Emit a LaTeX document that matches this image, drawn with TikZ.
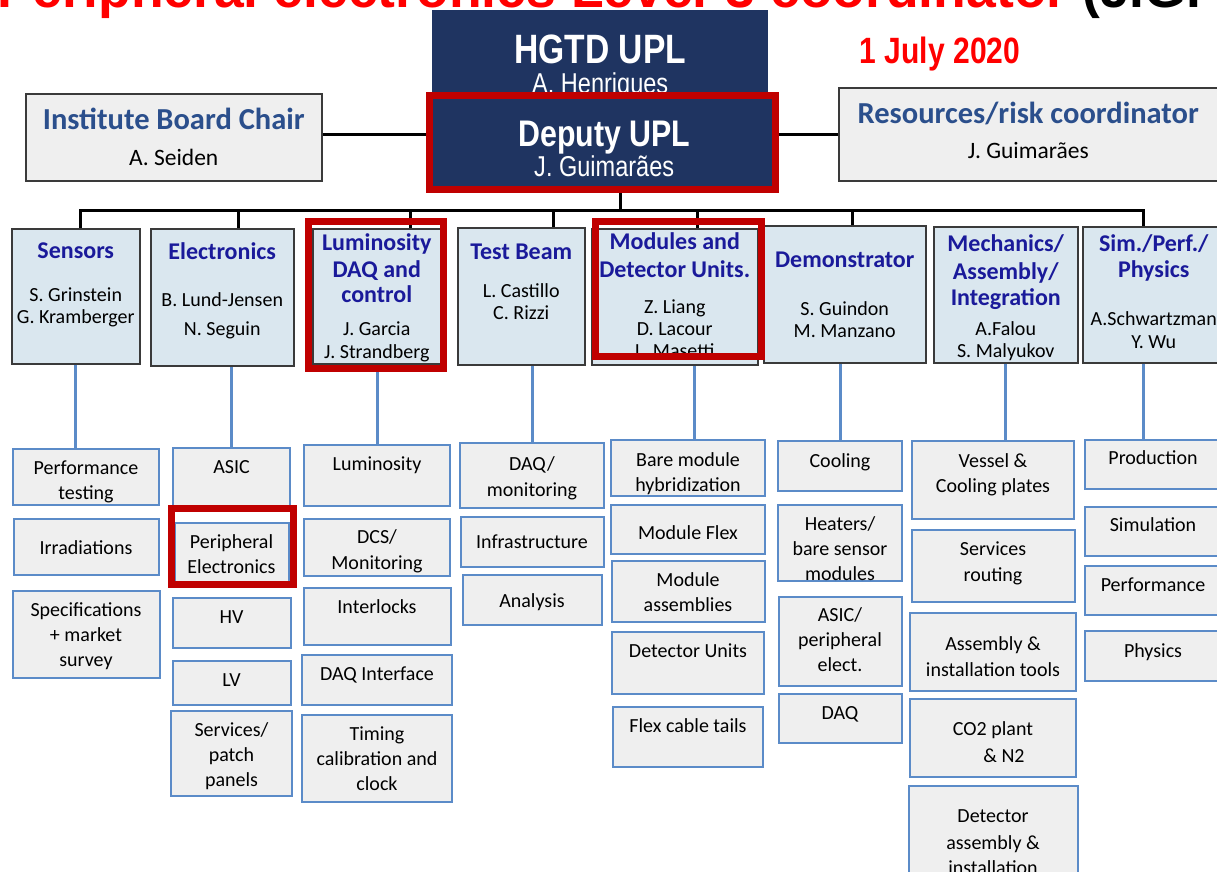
\documentclass[tikz,border=0pt]{standalone}
\usepackage{fontspec}
\setmainfont{Carlito}
\newfontfamily\arialfont{Liberation Sans}
\newfontfamily\narrowfont[FakeStretch=0.82]{Liberation Sans}
\usetikzlibrary{positioning}
\definecolor{navy}{HTML}{1F3461}
\definecolor{hlred}{HTML}{C00000}
\definecolor{alert}{HTML}{FF0000}
\definecolor{chairtxt}{HTML}{2B4F8C}
\definecolor{headtxt}{HTML}{1A1A9A}
\definecolor{headfill}{HTML}{DAE7EF}
\definecolor{boxgray}{HTML}{EFEFEF}
\definecolor{subline}{HTML}{5B8BC8}
\definecolor{edge}{HTML}{3A3A3A}
\newcommand{\ttl}{\fontsize{24}{26}\selectfont\bfseries\color{headtxt}}
\newcommand{\chairttl}{\fontsize{30.5}{34}\selectfont\bfseries\color{chairtxt}}

\begin{document}
\begin{tikzpicture}[
  x=1pt, y=-1pt,
  lead/.style={fill=navy, text=white, inner xsep=2pt, inner ysep=0pt, align=center,
               font=\narrowfont\fontsize{28.7}{30}\selectfont},
  chair/.style={draw=edge, fill=boxgray, line width=1.5pt, inner xsep=2pt, inner ysep=0pt,
                align=center, font=\fontsize{23.5}{36}\selectfont},
  head/.style={draw=edge, fill=headfill, line width=1.5pt, inner xsep=2pt, inner ysep=0pt,
               align=center, font=\fontsize{20}{22}\selectfont},
  sub/.style={draw=subline, fill=boxgray, line width=2pt, inner xsep=2pt, inner ysep=0pt,
              outer sep=0pt, align=center, font=\fontsize{20}{25}\selectfont},
  % width, baseline of the last line from the top, height
  fix/.style n args={3}{minimum width=#1pt, text height=#2pt, text depth=#3pt-#2pt},
  bus/.style={draw=black, line width=3pt},
  link/.style={draw=subline, line width=3pt},
  hl/.style={draw=hlred, line width=7pt}
]
  \useasboundingbox (0,0) rectangle (1217,871);

  % title line and date
  \node[anchor=base west, inner sep=0pt, font=\arialfont\bfseries\fontsize{53.5}{60}\selectfont] (banner) at (-3,7)
    {\textcolor{alert}{Peripheral electronics Level-3 coordinator} (J.G. E};
  \node[text=alert, font=\narrowfont\bfseries\fontsize{36.6}{40}\selectfont] (date) at (940,54) {1 July 2020};

  % top level
  \node[lead, fix={336}{83}{90}, anchor=north west] (upl) at (432,10)
    {{\bfseries\fontsize{41}{44}\selectfont HGTD UPL}\\A. Henriques};
  \node[lead, fix={344}{79}{91}, anchor=north west] (dep) at (432,97)
    {{\bfseries\fontsize{37}{40}\selectfont Deputy UPL}\\J. Guimarães};
  \node[chair, fix={296}{72}{87}, anchor=north west] (ibc) at (25,93)
    {{\chairttl Institute Board Chair}\\A. Seiden};
  \node[chair, fix={379}{71}{93}, anchor=north west] (res) at (838,87)
    {{\chairttl Resources/risk coordinator}\\[-1pt]J. Guimarães};

  % activity leaders
  \node[head, fix={128}{95}{135}, anchor=north west] (sens) at (11,228)
    {{\ttl Sensors}\\[21pt]S. Grinstein\\G. Kramberger};
  \node[head, fix={143}{107}{137}, anchor=north west] (elec) at (150,228)
    {{\ttl Electronics}\\[25pt]B. Lund-Jensen\\[7pt]N. Seguin};
  \node[head, fix={128}{130}{135}, anchor=north west] (lum) at (312,228)
    {{\ttl Luminosity}\\[5pt]{\ttl DAQ and}\\[3pt]{\ttl control}\\[11pt]J. Garcia\\[1pt]J. Strandberg};
  \node[head, fix={127}{92}{137}, anchor=north west] (tb) at (457,227)
    {{\ttl Test Beam}\\[16pt]L. Castillo\\C. Rizzi};
  \node[head, fix={166}{129}{136}, anchor=north west] (mod) at (591,228)
    {{\ttl Modules and}\\[6pt]{\ttl Detector Units.}\\[14pt]Z. Liang\\D. Lacour\\L. Masetti};
  \node[head, fix={162}{112}{137}, anchor=north west] (demo) at (763,225)
    {{\ttl Demonstrator}\\[26pt]S. Guindon\\M. Manzano};
  \node[head, fix={144}{131}{136}, anchor=north west] (mech) at (933,226)
    {{\ttl Mechanics/}\\[6pt]{\ttl Assembly/}\\[4pt]{\ttl Integration}\\[8pt]A.Falou\\S. Malyukov};
  \node[head, fix={142}{122}{136}, anchor=north west] (sim) at (1082,226)
    {{\ttl Sim./Perf./}\\[4pt]{\ttl Physics}\\[26pt]A.Schwartzman\\[1pt]Y. Wu};

  % sensors
  \node[sub, fix={146}{50}{56}, anchor=north] (perf) at (86,449) {Performance\\testing};
  \node[sub, fix={145}{35}{56}, below=14pt of perf] (irr) {Irradiations};
  \node[sub, fix={147}{75}{87}, below=16pt of irr] (spec) {Specifications\\+ market\\survey};

  % electronics
  \node[sub, fix={117}{25}{60}, anchor=north] (asic) at (231.5,448) {ASIC};
  \node[sub, fix={114}{50}{59}, below=15pt of asic] (peri) {Peripheral\\Electronics};
  \node[sub, fix={118}{25}{50}, below=16pt of peri] (hv) {HV};
  \node[sub, fix={118}{25}{44}, below=13pt of hv] (lv) {LV};
  \node[sub, fix={121}{75}{85}, below=6pt of lv] (serv) {Services/\\patch\\panels};

  % luminosity
  \node[sub, fix={146}{25}{61}, anchor=north] (lumi) at (377,445) {Luminosity};
  \node[sub, fix={146}{50}{57}, below=13pt of lumi] (dcs) {DCS/\\[1pt]Monitoring};
  \node[sub, fix={147}{25}{57}, below=12pt of dcs] (intl) {Interlocks};
  \node[sub, fix={150}{25}{50}, below=10pt of intl] (daqi) {DAQ Interface};
  \node[sub, fix={150}{75}{87}, below=10pt of daqi] (timing) {Timing\\calibration and\\clock};

  % test beam
  \node[sub, fix={144}{53}{65}, anchor=north] (daqm) at (532,443) {DAQ/\\[1pt]monitoring};
  \node[sub, fix={143}{31}{50}, below=9pt of daqm] (infra) {Infrastructure};
  \node[sub, fix={139}{32}{50}, below=8pt of infra] (anal) {Analysis};

  % modules
  \node[sub, fix={154}{51}{56}, anchor=north] (bare) at (688,440) {Bare module\\hybridization};
  \node[sub, fix={154}{34}{49}, below=9pt of bare] (flex) {Module Flex};
  \node[sub, fix={153}{50}{61}, below=7pt of flex] (massy) {Module\\assemblies};
  \node[sub, fix={152}{25}{62}, below=10pt of massy] (du) {Detector Units};
  \node[sub, fix={150}{25}{60}, below=13pt of du] (fct) {Flex cable tails};

  % demonstrator
  \node[sub, fix={124}{26}{50}, anchor=north] (cool) at (840,441) {Cooling};
  \node[sub, fix={124}{75}{76}, below=14pt of cool] (heat) {Heaters/\\bare sensor\\modules};
  \node[sub, fix={123}{74}{89}, below=16pt of heat] (asicp) {ASIC/\\peripheral\\elect.};
  \node[sub, fix={123}{25}{49}, below=8pt of asicp] (daq) {DAQ};

  % mechanics
  \node[sub, fix={162}{51}{78}, anchor=north] (vessel) at (993,441) {Vessel \&\\Cooling plates};
  \node[sub, fix={163}{51}{72}, below=11pt of vessel] (srout) {Services\\[1pt]routing};
  \node[sub, fix={166}{63}{78}, below=11pt of srout] (atools) {Assembly \&\\[1pt]installation tools};
  \node[sub, fix={166}{63}{78}, below=8pt of atools] (co2) {CO2 plant\\[2pt]\hspace*{22pt}\& N2};
  \node[sub, fix={169}{88}{100}, below=9pt of co2] (dass) {Detector\\[2pt]assembly \&\\installation};

  % simulation
  \node[sub, fix={136}{24}{49}, anchor=north] (prod) at (1153,440) {Production};
  \node[sub, fix={136}{24}{49}, below=18pt of prod] (simu) {Simulation};
  \node[sub, fix={136}{25}{49}, below=10pt of simu] (perfm) {Performance};
  \node[sub, fix={136}{26}{50}, below=16pt of perfm] (phys) {Physics};

  % black tree
  \coordinate (hub) at (620,210);
  \draw[bus] (ibc.east |- res.west) -- (dep.west |- res.west);
  \draw[bus] (dep.east |- res.west) -- (res.west);
  \draw[bus] (dep.south -| hub) -- (hub);
  \draw[bus] ([xshift=5pt]sens.north) |- (hub) -| ([xshift=-10pt]sim.north);
  \foreach \n/\s in {elec/16, lum/34, tb/32, mod/23, demo/8}
    \draw[bus] ([xshift=\s pt]\n.north) -- ([xshift=\s pt]\n.north |- hub);

  % blue links
  \draw[link] (sens.south) -- (sens.south |- perf.north);
  \draw[link] (asic.north) -- (asic.north |- elec.south);
  \draw[link] (lumi.north) -- (lumi.north |- lum.south);
  \draw[link] (daqm.north) -- (daqm.north |- tb.south);
  \draw[link] ([xshift=6pt]bare.north) -- ([xshift=6pt]bare.north |- mod.south);
  \draw[link] (cool.north) -- (cool.north |- demo.south);
  \draw[link] (mech.south) -- (mech.south |- vessel.north);
  \draw[link] ([xshift=-10pt]sim.south) -- ([xshift=-10pt]sim.south |- prod.north);

  % highlights
  \draw[hl] (429.5,95.5) rectangle (775.5,189.5);
  \draw[hl] (308.5,221.5) rectangle (443.5,368.5);
  \draw[hl] (595.5,221.5) rectangle (761.5,356.5);
  \draw[hl] (171.5,508.5) rectangle (293.5,584.5);
\end{tikzpicture}
\end{document}
